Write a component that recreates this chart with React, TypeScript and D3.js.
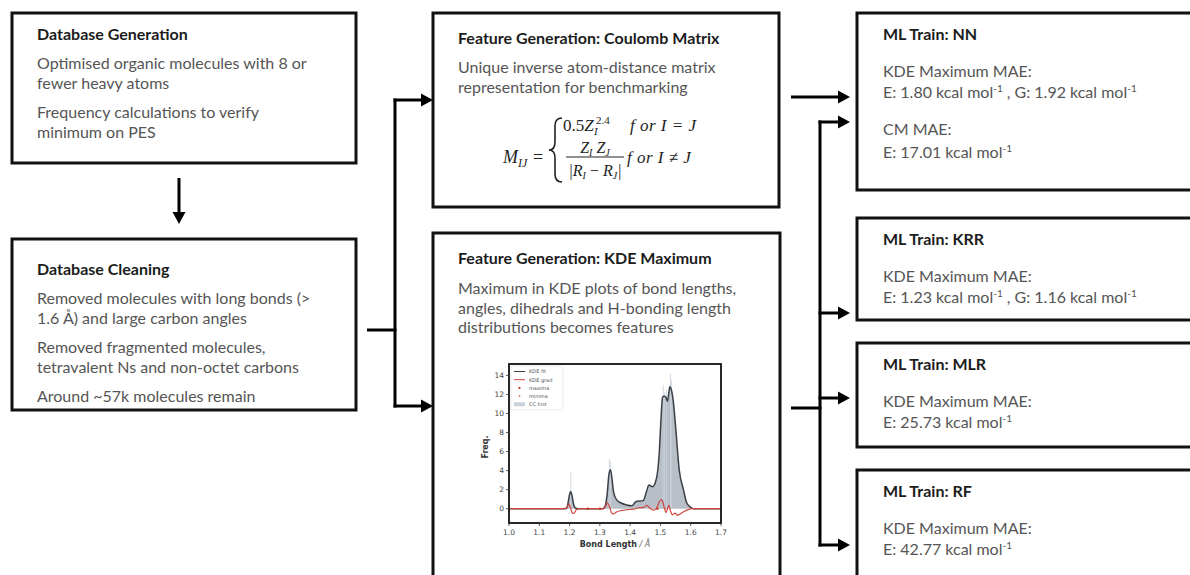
import React from "react";
import * as d3 from "d3";

// ---------- Flowchart text ----------
const box1Title = "Database Generation";
const box1Lines = ["Optimised organic molecules with 8 or", "fewer heavy atoms", "", "Frequency calculations to verify", "minimum on PES"];
const box2Title = "Database Cleaning";
const box2Lines = ["Removed molecules with long bonds (>", "1.6 Å) and large carbon angles", "", "Removed fragmented molecules,", "tetravalent Ns and non-octet carbons", "", "Around ~57k molecules remain"];
const cmTitle = "Feature Generation: Coulomb Matrix";
const cmLines = ["Unique inverse atom-distance matrix", "representation for benchmarking"];
const kdeTitle = "Feature Generation: KDE Maximum";
const kdeLines = ["Maximum in KDE plots of bond lengths,", "angles, dihedrals and H-bonding length", "distributions becomes features"];

const mlModels = ["NN", "KRR", "MLR", "RF"];
const kdeMaeE = ["1.80", "1.23", "25.73", "42.77"];
const kdeMaeG = ["1.92", "1.16", null, null];
const cmMaeE = ["17.01", null, null, null];

// ---------- Embedded KDE plot data ----------
const xTicks = [1.0, 1.1, 1.2, 1.3, 1.4, 1.5, 1.6, 1.7];
const yTicks = [0, 2, 4, 6, 8, 10, 12, 14];
const kdeX = [1.0, 1.18, 1.19, 1.195, 1.2, 1.204, 1.208, 1.213, 1.22, 1.23, 1.31, 1.318, 1.324, 1.33, 1.335, 1.34, 1.345, 1.355, 1.37, 1.388, 1.405, 1.42, 1.443, 1.454, 1.462, 1.474, 1.487, 1.496, 1.502, 1.507, 1.512, 1.518, 1.523, 1.527, 1.531, 1.536, 1.542, 1.551, 1.562, 1.576, 1.587, 1.603, 1.61, 1.7];
const kdeY = [0, 0, 0.05, 0.6, 1.5, 1.8, 1.4, 0.5, 0.05, 0, 0, 0.3, 1.5, 3.6, 4.1, 3.2, 1.8, 0.95, 0.6, 0.4, 0.3, 0.75, 0.85, 1.8, 2.5, 2.3, 3.2, 5.8, 9.5, 11.7, 11.8, 11.7, 11.3, 12.0, 12.8, 12.5, 11.4, 8.3, 4.1, 2.0, 0.6, 0.07, 0, 0];
const gradX = [1.0, 1.185, 1.192, 1.197, 1.203, 1.208, 1.214, 1.222, 1.23, 1.31, 1.318, 1.325, 1.332, 1.338, 1.345, 1.355, 1.37, 1.39, 1.41, 1.43, 1.445, 1.455, 1.465, 1.478, 1.488, 1.496, 1.503, 1.509, 1.514, 1.519, 1.524, 1.528, 1.533, 1.54, 1.548, 1.556, 1.565, 1.578, 1.592, 1.605, 1.7];
const gradY = [0, 0, 0.15, 0.5, 0.1, -0.4, -0.5, -0.1, 0, 0, 0.2, 0.6, 0.2, -0.4, -0.55, -0.35, -0.2, -0.1, -0.05, 0.1, 0.15, 0.35, 0.05, -0.15, 0.1, 0.7, 0.95, 0.6, -0.1, -0.4, 0.1, 0.35, -0.2, -0.65, -0.45, -0.7, -0.55, -0.3, -0.1, 0, 0];
const histX = [1.204, 1.331, 1.335, 1.509, 1.513, 1.52, 1.533, 1.537];
const histY = [3.8, 5.3, 5.0, 13.0, 12.2, 12.5, 14.2, 13.5];
const maximaX = [1.26, 1.3, 1.49];
const minimaX = [1.295, 1.515];
const legendLabels = ["KDE fit", "KDE grad", "maxima", "minima", "CC hist"];

const FONT = "Lato, 'Open Sans', sans-serif";
const TITLE_C = "#1c1c1c";
const BODY_C = "#555555";
const MATH = "'Liberation Serif', 'DejaVu Serif', serif";

function Arrow({ x1, y1, x2, y2 }: { x1: number; y1: number; x2: number; y2: number }) {
  const ang = Math.atan2(y2 - y1, x2 - x1);
  const L = 12, W = 6.5;
  const bx = x2 - L * Math.cos(ang), by = y2 - L * Math.sin(ang);
  const px = -Math.sin(ang) * W, py = Math.cos(ang) * W;
  return (
    <g>
      <line x1={x1} y1={y1} x2={bx + Math.cos(ang)} y2={by + Math.sin(ang)} stroke="#000" strokeWidth={3} />
      <path d={`M${x2},${y2}L${bx + px},${by + py}L${bx - px},${by - py}Z`} fill="#000" />
    </g>
  );
}

function Box({ x, y, w, h }: { x: number; y: number; w: number; h: number }) {
  return <rect x={x} y={y} width={w} height={h} fill="#fff" stroke="#111" strokeWidth={3} />;
}

function TextBlock({ x, y, title, lines, gap = 29, lh = 19.5, para = 10 }: { x: number; y: number; title: string; lines: string[]; gap?: number; lh?: number; para?: number }) {
  let cy = y + gap;
  const items: React.ReactNode[] = [];
  lines.forEach((l, i) => {
    if (l === "") { cy += para; return; }
    items.push(<text key={i} x={x} y={cy} fill={BODY_C} fontSize={16} fontFamily={FONT}>{l}</text>);
    cy += lh;
  });
  return (
    <g>
      <text x={x} y={y} fill={TITLE_C} fontSize={16} fontWeight={700} fontFamily={FONT}>{title}</text>
      {items}
    </g>
  );
}

function Kcal({ x, y, parts }: { x: number; y: number; parts: string[] }) {
  const labels = ["E", "G"];
  const nodes: React.ReactNode[] = [];
  parts.forEach((p, i) => {
    nodes.push(<tspan key={"a" + i} dy={i === 0 ? 0 : 6}>{(i > 0 ? " ,  " : "") + labels[i] + ": " + p + " kcal mol"}</tspan>);
    nodes.push(<tspan key={"b" + i} dy={-6} fontSize={10}>-1</tspan>);
  });
  return <text x={x} y={y} fill={BODY_C} fontSize={16} fontFamily={FONT}>{nodes}</text>;
}

function KdePlot() {
  const x = d3.scaleLinear().domain([1.0, 1.7]).range([509, 721]);
  const y = d3.scaleLinear().domain([-1.5, 15.2]).range([523, 364]);
  const kdePts = kdeX.map((v, i) => [v, kdeY[i]] as [number, number]);
  const gradPts = gradX.map((v, i) => [v, gradY[i]] as [number, number]);
  const line = d3.line<[number, number]>().x(d => x(d[0])).y(d => y(d[1])).curve(d3.curveMonotoneX);
  const area = d3.area<[number, number]>().x(d => x(d[0])).y0(y(0)).y1(d => y(d[1])).curve(d3.curveMonotoneX);
  const bw = x(1.003) - x(1.0);
  const [x0, x1] = x.range();
  const [yb, yt] = y.range();
  return (
    <g>
      <path d={area(kdePts) || ""} fill="#b9bfc6" />
      {histX.map((hx, i) => (
        <rect key={i} x={x(hx) - bw / 2} y={y(histY[i])} width={bw} height={y(0) - y(histY[i])} fill="#c9d1db" opacity={0.9} />
      ))}
      <path d={line(kdePts) || ""} fill="none" stroke="#3b4048" strokeWidth={1.5} />
      <path d={line(gradPts) || ""} fill="none" stroke="#d0453f" strokeWidth={1.2} />
      {maximaX.map((m, i) => <circle key={"mx" + i} cx={x(m)} cy={y(0)} r={1.2} fill="#c0392b" />)}
      {minimaX.map((m, i) => <circle key={"mn" + i} cx={x(m)} cy={y(0)} r={1} fill="#d9604f" />)}
      <rect x={x0} y={yt} width={x1 - x0} height={yb - yt} fill="none" stroke="#111" strokeWidth={1.8} />
      {yTicks.map(t => (
        <g key={"y" + t}>
          <line x1={x0 - 3} x2={x0} y1={y(t)} y2={y(t)} stroke="#333" strokeWidth={0.8} />
          <text x={x0 - 5} y={y(t) + 2.7} textAnchor="end" fontSize={7.5} fill="#444" fontFamily="'DejaVu Sans', sans-serif">{t}</text>
        </g>
      ))}
      {xTicks.map(t => (
        <g key={"x" + t}>
          <line x1={x(t)} x2={x(t)} y1={yb} y2={yb + 3} stroke="#333" strokeWidth={0.8} />
          <text x={x(t)} y={yb + 11.5} textAnchor="middle" fontSize={7.5} fill="#444" fontFamily="'DejaVu Sans', sans-serif">{t.toFixed(1)}</text>
        </g>
      ))}
      <text x={(x0 + x1) / 2} y={yb + 24} textAnchor="middle" fontSize={8} fill="#333" fontFamily="'DejaVu Sans', sans-serif">
        <tspan fontWeight={700}>Bond Length</tspan><tspan fontStyle="italic" fill="#666"> / Å</tspan>
      </text>
      <text transform={`translate(488,447) rotate(-90)`} textAnchor="middle" fontSize={8} fontWeight={700} fill="#333" fontFamily="'DejaVu Sans', sans-serif">Freq.</text>
      {/* legend */}
      <rect x={511} y={366} width={52} height={44} fill="#fff" stroke="#ddd" strokeWidth={0.6} rx={1.5} />
      {legendLabels.map((lab, i) => {
        const ly = 371.5 + i * 8.2;
        let handle: React.ReactNode;
        if (i === 0) handle = <line x1={514} x2={525} y1={ly} y2={ly} stroke="#3b4048" strokeWidth={1} />;
        else if (i === 1) handle = <line x1={514} x2={525} y1={ly} y2={ly} stroke="#d0453f" strokeWidth={1} />;
        else if (i === 2) handle = <circle cx={519.5} cy={ly} r={1.1} fill="#c0392b" />;
        else if (i === 3) handle = <circle cx={519.5} cy={ly} r={0.9} fill="#d9604f" />;
        else handle = <rect x={514} y={ly - 2} width={11} height={4} fill="#c9d1db" />;
        return (
          <g key={lab}>
            {handle}
            <text x={529} y={ly + 1.8} fontSize={5} fill="#555" fontFamily="'DejaVu Sans', sans-serif">{lab}</text>
          </g>
        );
      })}
    </g>
  );
}

function Formula() {
  return (
    <g fontFamily={MATH} fill="#222">
      <text x={503} y={163} fontSize={18} fontStyle="italic">M<tspan fontSize={12} dy={4}>IJ</tspan></text>
      <text x={533} y={163} fontSize={18}>=</text>
      <path d="M562,118 Q555,118 555,126 L555,142 Q555,150 549,150 Q555,150 555,158 L555,174 Q555,182 562,182" fill="none" stroke="#222" strokeWidth={1.6} />
      <text x={563} y={131} fontSize={17}>0.5<tspan fontStyle="italic">Z</tspan></text>
      <text x={596} y={124} fontSize={11}>2.4</text>
      <text x={594} y={135} fontSize={11} fontStyle="italic">I</text>
      <text x={630} y={131} fontSize={17} fontStyle="italic" letterSpacing={0.5}>f or  I = J</text>
      <text x={595} y={153} fontSize={16} fontStyle="italic" textAnchor="middle">Z<tspan fontSize={10} dy={3}>I</tspan><tspan dy={-3}> Z</tspan><tspan fontSize={10} dy={3}>J</tspan></text>
      <line x1={566} x2={624} y1={157} y2={157} stroke="#222" strokeWidth={1.2} />
      <text x={595} y={176} fontSize={16} fontStyle="italic" textAnchor="middle">|R<tspan fontSize={10} dy={3}>I</tspan><tspan dy={-3} fontStyle="normal"> − </tspan><tspan>R</tspan><tspan fontSize={10} dy={3}>J</tspan><tspan dy={-3}>|</tspan></text>
      <text x={627} y={163} fontSize={17} fontStyle="italic" letterSpacing={0.5}>f or  I ≠ J</text>
    </g>
  );
}

export default function App() {
  const rightBoxes = [
    { y: 13, h: 177, ty: 40 },
    { y: 218, h: 102, ty: 245 },
    { y: 343, h: 104, ty: 370 },
    { y: 470, h: 200, ty: 497 },
  ];
  const rightArrowY = [122, 313, 398, 545];
  return (
    <svg width={1190} height={575} style={{ position: "fixed", left: 0, top: 0, background: "#fff" }}>
      <rect width={1190} height={575} fill="#fff" />
      <Box x={12} y={13} w={344} h={150} />
      <Box x={12} y={239} w={344} h={171} />
      <Box x={433} y={13} w={346} h={194} />
      <Box x={433} y={233} w={347} h={370} />
      {rightBoxes.map((b, i) => <Box key={i} x={857} y={b.y} w={400} h={b.h} />)}

      <TextBlock x={37} y={40} title={box1Title} lines={box1Lines} gap={29} />
      <TextBlock x={37} y={275} title={box2Title} lines={box2Lines} gap={29} />
      <TextBlock x={458} y={44} title={cmTitle} lines={cmLines} gap={29} />
      <TextBlock x={458} y={264} title={kdeTitle} lines={kdeLines} gap={30} />
      <Formula />
      <KdePlot />

      {mlModels.map((m, i) => {
        const b = rightBoxes[i];
        const parts = [kdeMaeE[i]].concat(kdeMaeG[i] ? [kdeMaeG[i] as string] : []);
        return (
          <g key={m}>
            <text x={883} y={b.ty} fill={TITLE_C} fontSize={16} fontWeight={700} fontFamily={FONT}>{"ML Train: " + m}</text>
            <text x={883} y={b.ty + 37} fill={BODY_C} fontSize={16} fontFamily={FONT}>KDE Maximum MAE:</text>
            <Kcal x={883} y={b.ty + 58} parts={parts} />
            {cmMaeE[i] && (
              <g>
                <text x={883} y={b.ty + 95} fill={BODY_C} fontSize={16} fontFamily={FONT}>CM MAE:</text>
                <Kcal x={883} y={b.ty + 118} parts={[cmMaeE[i] as string]} />
              </g>
            )}
          </g>
        );
      })}

      <Arrow x1={179} y1={178} x2={179} y2={224} />
      <line x1={367} x2={396.5} y1={330} y2={330} stroke="#000" strokeWidth={3} />
      <line x1={395} x2={395} y1={98.5} y2={407.5} stroke="#000" strokeWidth={3} />
      <Arrow x1={393.5} y1={100} x2={433} y2={100} />
      <Arrow x1={393.5} y1={406} x2={433} y2={406} />
      <Arrow x1={791} y1={97} x2={850} y2={97} />
      <line x1={791} x2={821.5} y1={408} y2={408} stroke="#000" strokeWidth={3} />
      <line x1={820} x2={820} y1={120.5} y2={546.5} stroke="#000" strokeWidth={3} />
      {rightArrowY.map((ay, i) => <Arrow key={i} x1={818.5} y1={ay} x2={850} y2={ay} />)}
    </svg>
  );
}
